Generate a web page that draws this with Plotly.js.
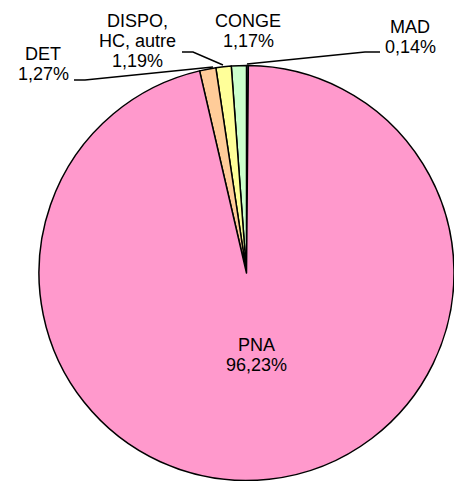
<!DOCTYPE html>
<html>
<head>
<meta charset="utf-8">
<script src="https://cdn.plot.ly/plotly-3.0.1.min.js"></script>
<style>html,body{margin:0;padding:0;background:#fff;}#chart{width:454px;height:481px;}</style>
</head>
<body>
<div id="chart"></div>
<script>
// ---- data ----
var categories = ['MAD', 'CONGE', 'DISPO, HC, autre', 'DET', 'PNA'];
var labelLines = [['MAD'], ['CONGE'], ['DISPO,', 'HC, autre'], ['DET'], ['PNA']];
var values = [0.14, 1.17, 1.19, 1.27, 96.23];
var colors = ['#99CCFF', '#CCFFCC', '#FFFF99', '#FFCC99', '#FF99CC'];

// ---- layout helpers (pixel -> paper) ----
var W = 454, H = 481;
function px(x) { return x / W; }
function py(y) { return 1 - y / H; }

// label anchor positions (centre of first line, pixels) and line spacing
var labelPos = [
  [410, 27],   // MAD
  [248, 21],   // CONGE
  [137, 21],   // DISPO
  [43, 54],    // DET
  [256, 345]   // PNA
];
var lineGap = 20;

// leader lines (pixels)
var leaders = [
  [[380, 52], [365, 52], [247, 64]],
  null,
  [[182, 52], [193, 52], [223, 65]],
  [[74, 80], [85, 80], [213, 67]],
  null
];

function pct(v) { return v.toFixed(2).replace('.', ',') + '%'; }

var annotations = [];
categories.forEach(function (c, i) {
  var lines = labelLines[i].concat([pct(values[i])]);
  lines.forEach(function (t, k) {
    annotations.push({
      xref: 'paper', yref: 'paper',
      x: px(labelPos[i][0]), y: py(labelPos[i][1] + k * lineGap),
      xanchor: 'center', yanchor: 'middle',
      text: t, showarrow: false,
      font: {family: 'Liberation Sans, Arial, sans-serif', size: 18, color: '#000'}
    });
  });
});

var shapes = [];
leaders.forEach(function (pts) {
  if (!pts) return;
  var d = pts.map(function (p, k) { return (k ? 'L' : 'M') + px(p[0]) + ',' + py(p[1]); }).join(' ');
  shapes.push({type: 'path', xref: 'paper', yref: 'paper', path: d, line: {color: '#000', width: 1.5}});
});

var trace = {
  type: 'pie',
  labels: categories,
  values: values,
  sort: false,
  direction: 'counterclockwise',
  rotation: 0,
  marker: {colors: colors, line: {color: '#000', width: 1.5}},
  textinfo: 'none',
  hoverinfo: 'none',
  showlegend: false,
  domain: {x: [39 / W, 1], y: [0, 416 / H]}
};

var layout = {
  width: W, height: H,
  margin: {l: 0, r: 0, t: 0, b: 0},
  paper_bgcolor: '#fff',
  showlegend: false,
  annotations: annotations,
  shapes: shapes
};

Plotly.newPlot('chart', [trace], layout, {displayModeBar: false, staticPlot: true});
</script>
</body>
</html>
